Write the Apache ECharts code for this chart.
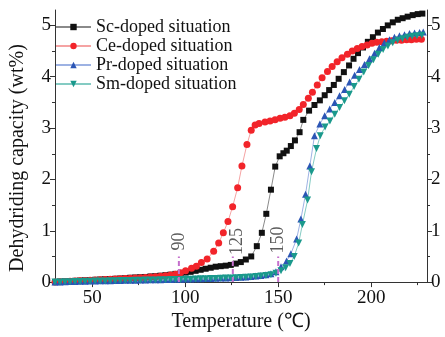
<!DOCTYPE html>
<html><head><meta charset="utf-8">
<script src="https://cdn.jsdelivr.net/npm/echarts@6/dist/echarts.min.js"></script>
<style>html,body{margin:0;padding:0;background:#fff}#c{width:445px;height:337px}</style>
</head><body><div id="c"></div>
<script>
const seriesNames = ['Sc-doped situation','Ce-doped situation','Pr-doped situation','Sm-doped situation'];
const xTickLabels = [50,100,150,200];
const xMinorTicks = [75,125,175,225];
const yTickLabels = [0,1,2,3,4,5];
const yMinorTicks = [0.5,1.5,2.5,3.5,4.5];

const scT = [30,32.7,35.4,38.1,40.8,43.5,46.2,48.9,51.6,54.3,57,59.7,62.4,65.1,67.8,70.5,73.2,75.9,78.6,81.3,84,86.7,89.4,92.1,94.8,
  97.5,100.2,102.9,105.6,108.3,111,113.7,116.4,119.1,121.8,124.5,127.2,129.9,132.6,
  135.5,138.5,141.2,143.6,146.1,148.4,150.8,152.8,154.6,156.8,159,161.5,163.5,166.6,169.5,172.4,175,177.4,179.9,182.5,185.3,188.1,190.5,192.9,195.6,198.2,200.9,203.6,206.3,208.9,211.6,214.3,216.9,219.6,222.3,225,227.5];
const scV = [0,0.01,0.015,0.02,0.025,0.03,0.035,0.04,0.045,0.05,0.055,0.06,0.065,0.07,0.075,0.085,0.09,0.095,0.1,0.11,0.115,0.125,0.135,0.145,0.16,
  0.17,0.185,0.2,0.22,0.24,0.26,0.28,0.3,0.31,0.32,0.335,0.36,0.39,0.44,
  0.5,0.7,0.96,1.33,1.8,2.25,2.45,2.51,2.56,2.65,2.76,2.92,3.16,3.34,3.45,3.54,3.64,3.74,3.84,3.96,4.09,4.22,4.35,4.46,4.57,4.68,4.77,4.86,4.93,5.0,5.06,5.11,5.14,5.17,5.2,5.22,5.23];

const ceT = [30,32.7,35.4,38.1,40.8,43.5,46.2,48.9,51.6,54.3,57,59.7,62.4,65.1,67.8,70.5,73.2,75.9,78.6,81.3,84,86.7,89.4,92.1,94.8,
  97.5,100.2,103.4,106,108.7,111.8,115.3,118,120.5,123,125.5,128.2,130.5,133.2,135.5,137.6,139.7,
  142.9,145.6,148.3,151,153.6,156.3,158.7,161.3,163.5,166.2,168.4,171,173.6,176.5,179,181.7,184.3,187.2,189.8,192.5,195.1,197.8,200.4,203,205.7,208.3,211,213.6,216.3,219,221.6,224.3,227];
const ceV = [0,0.005,0.01,0.015,0.02,0.025,0.03,0.035,0.04,0.045,0.05,0.055,0.06,0.065,0.07,0.075,0.08,0.085,0.09,0.1,0.105,0.115,0.125,0.14,0.155,
  0.18,0.22,0.27,0.31,0.38,0.45,0.6,0.76,0.96,1.18,1.47,1.84,2.26,2.68,2.96,3.06,3.09,
  3.12,3.14,3.16,3.19,3.21,3.24,3.29,3.36,3.46,3.58,3.7,3.84,3.98,4.1,4.2,4.29,4.37,4.44,4.5,4.55,4.59,4.62,4.65,4.67,4.68,4.69,4.7,4.71,4.71,4.72,4.72,4.73,4.73];

const prT = [30,32.7,35.4,38.1,40.8,43.5,46.2,48.9,51.6,54.3,57,59.7,62.4,65.1,67.8,70.5,73.2,75.9,78.6,81.3,84,86.7,89.4,92.1,94.8,
  97.5,100.2,102.9,105.6,108.3,111,113.7,116.4,119.1,121.8,124.5,127.2,129.9,132.6,135.3,138,140.7,143.4,146.1,148.8,
  151.5,154.5,156.8,159.9,162.2,164.7,167,169.5,172.4,175,177.7,180.4,183,185.7,188.4,191.1,193.7,196.4,199.1,201.8,204.4,207.1,209.8,212.5,215.2,217.9,220.6,223.3,226,228];
const prV = [0,0.004,0.007,0.01,0.012,0.015,0.017,0.02,0.022,0.024,0.026,0.028,0.03,0.032,0.034,0.036,0.038,0.04,0.042,0.044,0.046,0.048,0.05,0.052,0.054,
  0.056,0.058,0.06,0.063,0.066,0.069,0.072,0.075,0.078,0.082,0.086,0.09,0.095,0.1,0.11,0.12,0.13,0.145,0.165,0.2,
  0.3,0.41,0.55,0.84,1.23,1.71,2.26,2.85,3.08,3.24,3.37,3.5,3.63,3.75,3.9,4.03,4.14,4.24,4.35,4.46,4.57,4.66,4.72,4.77,4.8,4.82,4.84,4.85,4.86,4.87];

const smT = [30,32.7,35.4,38.1,40.8,43.5,46.2,48.9,51.6,54.3,57,59.7,62.4,65.1,67.8,70.5,73.2,75.9,78.6,81.3,84,86.7,89.4,92.1,94.8,
  97.5,100.2,102.9,105.6,108.3,111,113.7,116.4,119.1,121.8,124.5,127.2,129.9,132.6,135.3,138,140.7,143.4,146.1,
  148.8,151.5,154,156.3,158.6,161,163,165.8,167.9,170.6,172.6,175.2,177.8,180.4,183,185.6,188.2,190.8,193.4,196,198.6,201.2,203.8,206.4,209,211.6,214.2,216.8,219.4,222,224.6,227.2];
const smV = [0,0.003,0.006,0.009,0.011,0.013,0.015,0.017,0.019,0.021,0.023,0.025,0.027,0.029,0.031,0.033,0.035,0.037,0.039,0.041,0.043,0.045,0.047,0.049,0.051,
  0.053,0.055,0.057,0.06,0.063,0.066,0.069,0.072,0.075,0.078,0.082,0.086,0.09,0.095,0.1,0.11,0.12,0.13,0.145,
  0.17,0.22,0.28,0.36,0.5,0.76,1.12,1.6,2.15,2.6,2.85,3.02,3.14,3.27,3.4,3.53,3.66,3.81,3.95,4.09,4.22,4.33,4.44,4.53,4.6,4.66,4.71,4.74,4.77,4.79,4.8,4.81];

const guideT = [96.6,125.6,150.0];
const guideBottom = [0,0,0];
const guideTop = [0.5,0.5,0.5];
const guideLabels = ['90','125','150'];
const guideLabelT = [96.8,128.2,150.3];
const guideLabelV = [0.79,0.79,0.82];

function pairs(t, v){ const n = Math.min(t.length, v.length); const out=[]; for(let i=0;i<n;i++) out.push([t[i], v[i]]); return out; }

const FONT = 'Liberation Serif';
const axisColor = '#333';
const chart = echarts.init(document.getElementById('c'));

function mkSeries(name, t, v, symbol, size, mColor, lColor, rot){
  return {name, type:'line', data:pairs(t,v), symbol, symbolSize:size, symbolRotate: rot||0,
    itemStyle:{color:mColor}, lineStyle:{color:lColor, width:1}, animation:false, showAllSymbol:true};
}

const guideSeries = guideT.map((t,i)=>({
  name:'guide'+i, type:'line', data:[[t,guideBottom[i]],[t,guideTop[i]]], symbol:'none', z:10,
  silent:true, animation:false,
  lineStyle:{color:'#c46fcc', type:[5,3], width:2}
}));

chart.setOption({
  animation:false,
  grid:{left:53, right:18, top:10, bottom:53},
  legend:{
    data: seriesNames.map(n=>({name:n})),
    orient:'vertical', left:50, top:13, itemWidth:35, itemHeight:8, itemGap:1,
    textStyle:{fontFamily:FONT, fontSize:18, color:'#111'}
  },
  xAxis:[
    {type:'value', min:30, max:230, position:'bottom',
      axisLine:{show:true, lineStyle:{color:axisColor, width:1}},
      axisTick:{show:true, inside:false, length:5, customValues:xTickLabels, lineStyle:{color:axisColor}},
      axisLabel:{customValues:xTickLabels, fontFamily:FONT, fontSize:19, color:'#111', margin:6},
      splitLine:{show:false},
      name:'Temperature (\u2103)', nameLocation:'middle', nameGap:29,
      nameTextStyle:{fontFamily:FONT, fontSize:20, color:'#111'}},
    {type:'value', min:30, max:230, position:'bottom',
      axisLine:{show:false},
      axisTick:{show:true, length:3, customValues:xMinorTicks, lineStyle:{color:axisColor}},
      axisLabel:{show:false}, splitLine:{show:false}},
    {type:'value', min:30, max:230, position:'top',
      axisLine:{show:true, lineStyle:{color:axisColor, width:1}},
      axisTick:{show:false}, axisLabel:{show:false}, splitLine:{show:false}}
  ],
  yAxis:[
    {type:'value', min:0, max:5.3, position:'left',
      axisLine:{show:true, lineStyle:{color:axisColor, width:1}},
      axisTick:{show:true, length:5, customValues:yTickLabels, lineStyle:{color:axisColor}},
      axisLabel:{customValues:yTickLabels, fontFamily:FONT, fontSize:19, color:'#111', margin:4},
      splitLine:{show:false},
      name:'Dehydriding capacity (wt%)', nameLocation:'middle', nameGap:27, nameRotate:90,
      nameTextStyle:{fontFamily:FONT, fontSize:20, color:'#111', padding:[0,24,0,0]}},
    {type:'value', min:0, max:5.3, position:'right',
      axisLine:{show:true, lineStyle:{color:axisColor, width:1}},
      axisTick:{show:true, length:5, customValues:yTickLabels, lineStyle:{color:axisColor}},
      axisLabel:{customValues:yTickLabels, fontFamily:FONT, fontSize:19, color:'#111', margin:4},
      splitLine:{show:false}},
    {type:'value', min:0, max:5.3, position:'left',
      axisLine:{show:false},
      axisTick:{show:true, length:3, customValues:yMinorTicks, lineStyle:{color:axisColor}},
      axisLabel:{show:false}, splitLine:{show:false}},
    {type:'value', min:0, max:5.3, position:'right',
      axisLine:{show:false},
      axisTick:{show:true, length:3, customValues:yMinorTicks, lineStyle:{color:axisColor}},
      axisLabel:{show:false}, splitLine:{show:false}}
  ],
  series:[
    mkSeries(seriesNames[0], scT, scV, 'rect', 6, '#111111', '#8a8a8a'),
    mkSeries(seriesNames[1], ceT, ceV, 'circle', 7, '#f2242a', '#f5a3a3'),
    mkSeries(seriesNames[2], prT, prV, 'triangle', 7, '#2b55b5', '#9db2e3'),
    mkSeries(seriesNames[3], smT, smV, 'triangle', 7, '#1a998c', '#84cbc3', 180),
    ...guideSeries,
    {name:'guideLabels', type:'scatter', data:pairs(guideLabelT, guideLabelV), symbolSize:2, z:10,
      itemStyle:{color:'rgba(255,255,255,0)'}, silent:true, animation:false,
      label:{show:true, position:'inside', rotate:90, fontFamily:FONT, fontSize:18, color:'#333',
        formatter:(p)=>guideLabels[p.dataIndex]}}
  ]
});
</script></body></html>
